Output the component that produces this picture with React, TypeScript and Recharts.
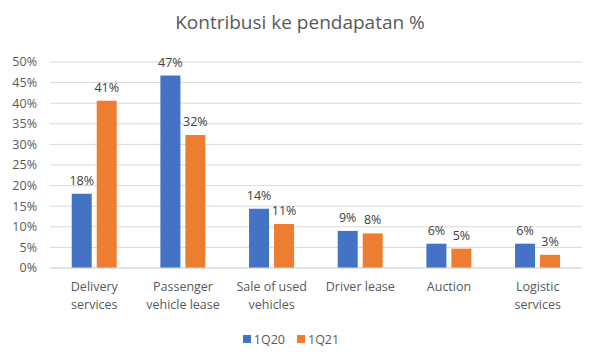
import { BarChart, Bar, XAxis, YAxis, CartesianGrid, Legend, LabelList } from "recharts";

const categories = [
  "Delivery\nservices",
  "Passenger\nvehicle lease",
  "Sale of used\nvehicles",
  "Driver lease",
  "Auction",
  "Logistic\nservices",
];
const q120 = [18.0, 46.7, 14.4, 9.0, 5.9, 5.9];
const q121 = [40.6, 32.3, 10.7, 8.4, 4.7, 3.2];
const yTicks = [0, 5, 10, 15, 20, 25, 30, 35, 40, 45, 50];

const data = categories.map((c, i) => ({ name: c, q120: q120[i], q121: q121[i] }));

const FONT = "'Open Sans', 'Noto Sans', sans-serif";
const GREY = "#595959";

function CategoryTick(props: any) {
  const { x, y, payload } = props;
  const lines = String(payload.value).split("\n");
  return (
    <text x={x} y={y} textAnchor="middle" fill={GREY} fontSize={12.5} fontFamily={FONT}>
      {lines.map((l, i) => (
        <tspan key={i} x={x} dy={i === 0 ? 15 : 18}>
          {l}
        </tspan>
      ))}
    </text>
  );
}

function LegendBox() {
  const items = [
    { label: "1Q20", color: "#4472C4" },
    { label: "1Q21", color: "#ED7D31" },
  ];
  return (
    <div style={{ display: "flex", justifyContent: "center", height: 20, alignItems: "center", fontFamily: FONT, fontSize: 12.5, color: GREY }}>
      {items.map((it) => (
        <div key={it.label} style={{ display: "flex", alignItems: "center", margin: "0 6px" }}>
          <span style={{ width: 8, height: 8, background: it.color, display: "inline-block", marginRight: 3 }} />
          <span>{it.label}</span>
        </div>
      ))}
    </div>
  );
}

export default function App() {
  return (
    <div style={{ position: "absolute", left: 0, top: 0, width: 600, height: 363, background: "#fff" }}>
      <div
        style={{
          position: "absolute",
          top: 9,
          left: 0,
          width: 600,
          textAlign: "center",
          fontFamily: FONT,
          fontSize: 19,
          color: GREY,
        }}
      >
        Kontribusi ke pendapatan %
      </div>
      <BarChart
        width={600}
        height={363}
        data={data}
        margin={{ top: 62, right: 18, left: 0, bottom: 14 }}
        barGap={5}
        barCategoryGap="24.5%"
      >
        <CartesianGrid stroke="#d9d9d9" vertical={false} />
        <XAxis
          dataKey="name"
          interval={0}
          tick={<CategoryTick />}
          tickLine={false}
          axisLine={{ stroke: "#d9d9d9" }}
          height={61}
        />
        <YAxis
          domain={[0, 50]}
          ticks={yTicks}
          interval={0}
          tickFormatter={(v: number) => `${v}%`}
          tick={{ fill: GREY, fontSize: 12.5, fontFamily: FONT }}
          tickLine={false}
          axisLine={false}
          tickMargin={7}
          width={50}
        />
        <Legend verticalAlign="bottom" content={<LegendBox />} />
        <Bar dataKey="q120" name="1Q20" fill="#4472C4" isAnimationActive={false}>
          <LabelList
            dataKey="q120"
            position="top"
            offset={9}
            formatter={(v: any) => `${Math.round(v)}%`}
            style={{ fill: "#404040", fontSize: 12.5, fontFamily: FONT }}
          />
        </Bar>
        <Bar dataKey="q121" name="1Q21" fill="#ED7D31" isAnimationActive={false}>
          <LabelList
            dataKey="q121"
            position="top"
            offset={9}
            formatter={(v: any) => `${Math.round(v)}%`}
            style={{ fill: "#404040", fontSize: 12.5, fontFamily: FONT }}
          />
        </Bar>
      </BarChart>
    </div>
  );
}
